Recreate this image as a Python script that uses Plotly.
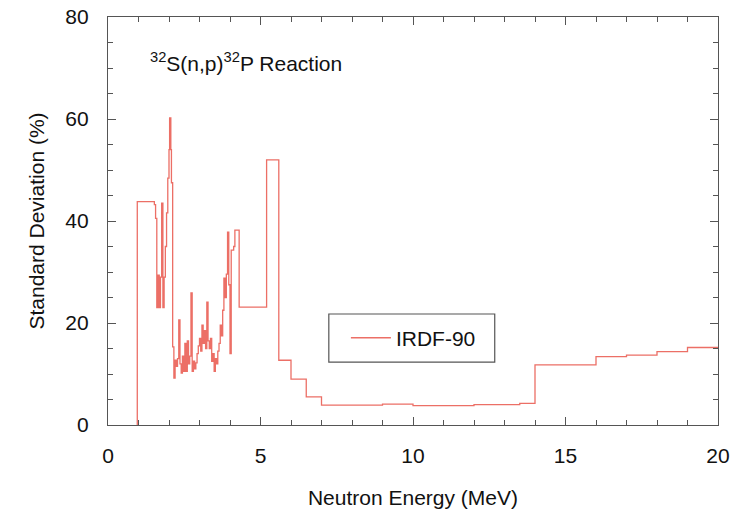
import plotly.graph_objects as go

# Step data: energy (MeV) at which each level starts, standard deviation (%)
energy = [0.96, 0.96, 1.52, 1.56, 1.60, 1.64, 1.68, 1.72, 1.76, 1.80, 1.84, 1.88,
          1.92, 1.96, 2.00, 2.02, 2.06, 2.08, 2.12, 2.16, 2.20, 2.24, 2.28, 2.32,
          2.36, 2.40, 2.44, 2.48, 2.52, 2.56, 2.60, 2.64, 2.68, 2.72, 2.76, 2.80,
          2.84, 2.88, 2.92, 2.96, 3.00, 3.04, 3.08, 3.12, 3.16, 3.20, 3.24, 3.28,
          3.32, 3.36, 3.40, 3.44, 3.48, 3.52, 3.56, 3.60, 3.64, 3.68, 3.72, 3.76,
          3.80, 3.84, 3.88, 3.92, 3.96, 4.00, 4.04, 4.12, 4.16, 4.30, 5.20, 5.60,
          6.00, 6.50, 7.00, 9.00, 10.0, 12.0, 13.5, 14.0, 16.0, 17.0, 18.0, 19.0,
          20.0]
std_dev = [0.0, 43.8, 43.2, 40.5, 23.0, 29.4, 23.0, 29.0, 43.5, 23.0, 29.0, 35.0,
           41.6, 48.4, 54.0, 60.2, 54.0, 47.5, 15.3, 9.2, 12.7, 11.5, 13.0, 20.6,
           12.0, 10.2, 13.5, 10.5, 16.0, 10.5, 16.5, 12.0, 13.5, 25.9, 10.5, 12.5,
           11.0, 12.2, 14.0, 15.5, 17.0, 14.5, 19.6, 16.0, 18.5, 15.0, 24.1, 16.5,
           15.0, 17.0, 12.5, 14.0, 10.5, 13.0, 12.0, 14.5, 16.0, 19.6, 17.5, 22.5,
           28.8, 25.0, 29.6, 37.8, 27.5, 14.0, 34.3, 35.0, 38.2, 23.1, 52.0, 12.7,
           9.0, 5.5, 3.9, 4.1, 3.8, 4.0, 4.25, 11.8, 13.4, 13.7, 14.4, 15.2,
           15.2]

series_name = "IRDF-90"
title_text = "<sup>32</sup>S(n,p)<sup>32</sup>P Reaction"
x_title = "Neutron Energy (MeV)"
y_title = "Standard Deviation (%)"

line_color = "#EC6F66"
axis_color = "#555555"
text_color = "#111111"
font_family = "Liberation Sans, Arial, Helvetica, sans-serif"

fig = go.Figure()
fig.add_trace(go.Scatter(
    x=energy, y=std_dev, mode="lines", name=series_name,
    line=dict(color=line_color, width=1.3, shape="hv"),
))

axis_common = dict(
    showline=True, linecolor=axis_color, linewidth=1.2, mirror="ticks",
    ticks="inside", ticklen=8, tickwidth=1, tickcolor=axis_color,
    showgrid=False, zeroline=False, automargin=False,
    tickfont=dict(size=21, color=text_color),
    title_font=dict(size=21, color=text_color),
)

fig.update_xaxes(range=[0, 20], dtick=5, tick0=0, title_text=x_title,
                 ticklabelstandoff=12, title_standoff=24,
                 minor=dict(dtick=1, ticks="inside", ticklen=5, tickcolor=axis_color),
                 **axis_common)
fig.update_yaxes(range=[0, 80], dtick=20, tick0=0, title_text=y_title,
                 ticklabelstandoff=14, title_standoff=14,
                 minor=dict(dtick=5, ticks="inside", ticklen=5, tickcolor=axis_color),
                 **axis_common)

fig.add_annotation(text=title_text, xref="paper", yref="paper", x=0.066, y=0.89,
                   xanchor="left", yanchor="middle", showarrow=False,
                   font=dict(size=21, color=text_color))

# legend frame
fig.add_shape(type="rect", xref="paper", yref="paper", x0=0.362, x1=0.634,
              y0=0.154, y1=0.272, line=dict(color=axis_color, width=1.2))

fig.update_layout(
    width=732, height=513,
    margin=dict(l=108, r=14, t=17, b=88, autoexpand=False),
    paper_bgcolor="white", plot_bgcolor="white",
    font=dict(family=font_family, color=text_color),
    showlegend=True,
    legend=dict(x=0.39, y=0.213, xanchor="left", yanchor="middle",
                bgcolor="rgba(0,0,0,0)", borderwidth=0,
                font=dict(size=21), itemwidth=40),
)

fig.write_html("out.html")
